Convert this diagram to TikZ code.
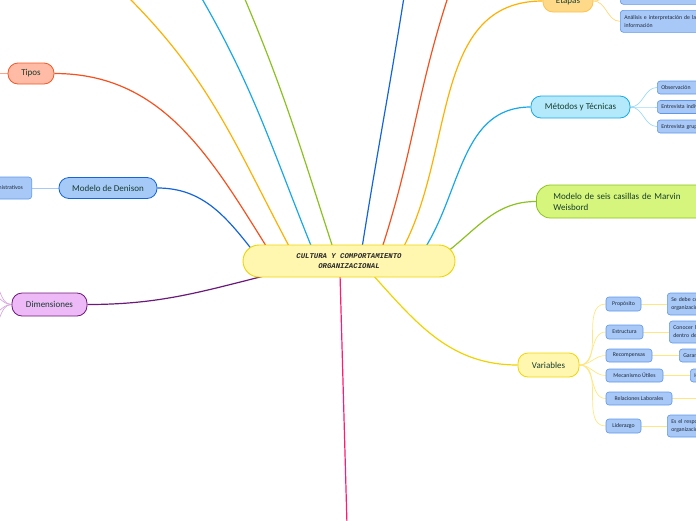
\documentclass[tikz,border=0pt]{standalone}
\usepackage{fontspec}
\setmainfont{Carlito}
\newfontfamily\cmono{Liberation Mono}
\usetikzlibrary{backgrounds}
\definecolor{txt}{HTML}{173C2C}
\definecolor{subtxt}{HTML}{1E2A3A}
\definecolor{tipodraw}{HTML}{F05A28}\definecolor{tipofill}{HTML}{FFBBA5}
\definecolor{dendraw}{HTML}{1565D8}\definecolor{denfill}{HTML}{A6CAF8}
\definecolor{dimdraw}{HTML}{6F1A78}\definecolor{dimfill}{HTML}{EDB9F7}
\definecolor{etdraw}{HTML}{FFC24A}\definecolor{etfill}{HTML}{FFD98A}
\definecolor{metdraw}{HTML}{17A9E6}\definecolor{metfill}{HTML}{B3E9FB}
\definecolor{seisdraw}{HTML}{8CC21C}\definecolor{seisfill}{HTML}{D6F57C}
\definecolor{vardraw}{HTML}{F2D600}\definecolor{varfill}{HTML}{FFF6B0}
\definecolor{cdraw}{HTML}{EED400}\definecolor{cfill}{HTML}{FFF6B0}
\definecolor{subfill}{HTML}{A8C8F7}\definecolor{subdraw}{HTML}{5F98E8}
\definecolor{eRed}{HTML}{F4511E}\definecolor{eBlue}{HTML}{1565D8}
\definecolor{ePurple}{HTML}{6A1B7A}\definecolor{eOrange}{HTML}{FFB000}
\definecolor{eSky}{HTML}{18A8E8}\definecolor{eGreen}{HTML}{8BC220}
\definecolor{eYellow}{HTML}{EDD300}\definecolor{ePink}{HTML}{FF1A75}
\definecolor{lYellow}{HTML}{FFE680}\definecolor{lOrange}{HTML}{FFD878}
\definecolor{lSky}{HTML}{9ED9F5}\definecolor{lPurple}{HTML}{D9A8E0}
\definecolor{lBlue}{HTML}{A6CAF8}\definecolor{lRed}{HTML}{FFA585}
\begin{document}
\begin{tikzpicture}[x=1pt,y=-1pt,
  mainbox/.style={draw, line width=0.8pt, rounded corners=10pt, text=txt,
    font=\fontsize{9}{11}\selectfont, inner sep=0pt},
  subbox/.style={draw=subdraw, fill=subfill, line width=0.6pt, rounded corners=3pt,
    text=subtxt, font=\fontsize{5.8}{7.6}\selectfont, inner sep=0pt},
  subtwo/.style={subbox, anchor=west, text width=95pt, align=left, inner xsep=4pt},
  link/.style={line width=1.2pt},
  slink/.style={line width=0.7pt}
]
\useasboundingbox (0,0) rectangle (696,520);
\clip (0,0) rectangle (696,520);

% centre
\node[draw=cdraw, fill=cfill, line width=0.9pt, rounded corners=16pt,
  minimum width=212pt, minimum height=32pt, align=center, text=black!85,
  font=\cmono\bfseries\itshape\fontsize{7.3}{10.7}\selectfont] (c) at (349,261)
  {CULTURA Y COMPORTAMIENTO\\ORGANIZACIONAL};

% main branches
\node[mainbox, fill=tipofill, draw=tipodraw, minimum width=46pt, minimum height=21pt] (tipos) at (31,73.5) {Tipos};
\node[mainbox, fill=denfill, draw=dendraw, minimum width=98pt, minimum height=21pt] (den) at (108,188) {Modelo de Denison};
\node[mainbox, fill=dimfill, draw=dimdraw, minimum width=75pt, minimum height=23pt] (dims) at (49.5,304.5) {Dimensiones};
\node[mainbox, fill=etfill, draw=etdraw, minimum width=50pt, minimum height=22pt] (etapas) at (568,1) {Etapas};
\node[mainbox, fill=metfill, draw=metdraw, minimum width=99pt, minimum height=22pt] (met) at (580.5,107) {Métodos y Técnicas};
\node[mainbox, fill=seisfill, draw=seisdraw, rounded corners=14pt, minimum width=162pt, minimum height=33pt,
  anchor=west, text width=140pt, align=left, inner xsep=17pt] (seis) at (536,201.5)
  {Modelo de seis casillas de Marvin\\Weisbord};
\node[mainbox, fill=varfill, draw=vardraw, minimum width=61pt, minimum height=24pt] (var) at (548.5,365) {Variables};

% sub nodes
\node[subbox, anchor=east, minimum width=54pt, minimum height=22pt] (den1) at (32,188) {Administrativos};
\node[subbox, anchor=north west, minimum width=110pt, minimum height=26pt] (et1) at (620,-22) {};
\node[subtwo, anchor=north west, minimum height=22pt] (et2) at (620,10) {Análisis e interpretación de la\\información};
\node[subbox, anchor=west, minimum width=90pt, minimum height=13pt, align=left, text width=82pt, inner xsep=4pt] (m1) at (657,87.5) {Observación};
\node[subbox, anchor=west, minimum width=90pt, minimum height=13pt, align=left, text width=82pt, inner xsep=4pt] (m2) at (657,107) {Entrevista individual};
\node[subbox, anchor=west, minimum width=90pt, minimum height=13pt, align=left, text width=82pt, inner xsep=4pt] (m3) at (657,126.5) {Entrevista grupal};

\node[subbox, minimum width=35pt, minimum height=14pt] (prop) at (623.5,304) {Propósito};
\node[subbox, minimum width=37pt, minimum height=14pt] (estr) at (624.5,332) {Estructura};
\node[subbox, minimum width=46pt, minimum height=13pt] (recomp) at (629,355.5) {Recompensas};
\node[subbox, minimum width=57pt, minimum height=13pt] (mec) at (634.5,375.5) {Mecanismo Útiles};
\node[subbox, minimum width=66pt, minimum height=13pt] (rel) at (639,398.5) {Relaciones Laborales};
\node[subbox, minimum width=35pt, minimum height=14pt] (lider) at (623.5,426) {Liderazgo};

\node[subtwo, minimum height=22pt] (g1) at (667,304) {Se debe conocer el propósito de la\\organización};
\node[subtwo, minimum height=22pt] (g2) at (669,332) {Conocer la estructura\\dentro de la organización};
\node[subtwo, minimum height=13pt] (g3) at (679,355.5) {Garantizar};
\node[subtwo, minimum height=13pt] (g4) at (690,375.5) {Herramientas};
\node[subtwo, minimum height=22pt] (g6) at (667,426) {Es el responsable de la\\organización};

% coordinates
\coordinate (cTipos) at (268,249);
\coordinate (cDen) at (253,251);
\coordinate (cDim) at (272,274);
\coordinate (cY) at (290,248);
\coordinate (cS) at (312,248);
\coordinate (cG) at (333,248);
\coordinate (cB) at (362,248);
\coordinate (cR) at (382,248);
\coordinate (cEt) at (403,248);
\coordinate (cMet) at (425,248);
\coordinate (cSeis) at (447,252);
\coordinate (cVar) at (372,274);
\coordinate (cPink) at (340,274);
\coordinate (oY) at (128,-3);
\coordinate (oS) at (201,-3);
\coordinate (oG) at (244,-3);
\coordinate (oB) at (404,-3);
\coordinate (oR) at (448,-3);
\coordinate (oPink) at (347,525);
\coordinate (oRel) at (720,398.5);
\coordinate (oTip) at (-10,73.5);
\coordinate (d1) at (-12,279);
\coordinate (d2) at (-12,293);
\coordinate (d3) at (-12,316);
\coordinate (d4) at (-12,330);

\begin{scope}[on background layer]
\draw[link, eRed] (tipos.east) to[out=0,in=122] (cTipos);
\draw[link, eBlue] (den.east) to[out=0,in=128] (cDen);
\draw[link, ePurple] (dims.east) to[out=0,in=194] (cDim);
\draw[link, eOrange] (oY) to[out=-45,in=118] (cY);
\draw[link, eSky] (oS) to[out=-60,in=112] (cS);
\draw[link, eGreen] (oG) to[out=-67,in=108] (cG);
\draw[link, eBlue] (oB) to[out=-99,in=81] (cB);
\draw[link, eRed] (oR) to[out=-108,in=72] (cR);
\draw[link, eOrange] (etapas.west) to[out=180,in=62] (cEt);
\draw[link, eSky] (met.west) to[out=180,in=58] (cMet);
\draw[link, eGreen] (seis.west) to[out=180,in=38] (cSeis);
\draw[link, eYellow] (cVar) to[out=-48,in=180] (var.west);
\draw[link, ePink] (cPink) -- (oPink);

\draw[slink, lRed] (tipos.west) -- (oTip);
\draw[slink, lBlue] (den.west) -- (den1.east);
\foreach \d in {d1,d2,d3,d4} \draw[slink, lPurple] (dims.west) to[out=180,in=0] (\d);
\draw[slink, lOrange] (etapas.east) to[out=0,in=180] (et1.west);
\draw[slink, lOrange] (etapas.east) to[out=0,in=180] (et2.west);
\foreach \m in {m1,m2,m3} \draw[slink, lSky] (met.east) to[out=0,in=180] (\m.west);
\foreach \v in {prop,estr,recomp,mec,rel,lider} \draw[slink, lYellow] (var.east) to[out=0,in=180] (\v.west);
\draw[line width=1pt, lYellow] (prop.east) -- (g1.west);
\draw[line width=1pt, lYellow] (estr.east) -- (g2.west);
\draw[line width=1pt, lYellow] (recomp.east) -- (g3.west);
\draw[line width=1pt, lYellow] (mec.east) -- (g4.west);
\draw[line width=1pt, lYellow] (rel.east) -- (oRel);
\draw[line width=1pt, lYellow] (lider.east) -- (g6.west);
\end{scope}
\end{tikzpicture}
\end{document}
